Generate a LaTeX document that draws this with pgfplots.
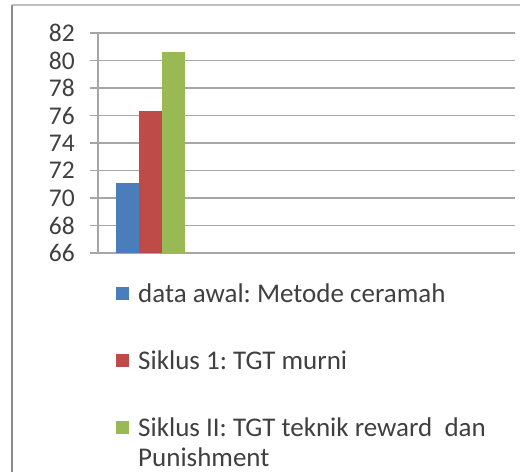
\documentclass[border=0pt]{standalone}
\usepackage{fontspec}
\setmainfont{Carlito}
\usepackage{pgfplots}
\pgfplotsset{compat=1.18}
\definecolor{cblue}{HTML}{4A7EBB}
\definecolor{cred}{HTML}{BE4B48}
\definecolor{cgreen}{HTML}{98B954}
\definecolor{gridc}{HTML}{A6A6A6}
\definecolor{txt}{HTML}{404040}
\frenchspacing
\begin{document}
\begin{tikzpicture}
\path[use as bounding box] (0pt,0pt) rectangle (520pt,472pt);
\fill[white] (0pt,0pt) rectangle (520pt,472pt);
\draw[color=black!25, line width=1.5pt] (12pt,467pt) -- (520pt,467pt);
\draw[color=black!45, line width=2.5pt] (12pt,467pt) -- (12pt,0pt);
\begin{axis}[
  at={(98pt,219pt)}, anchor=south west,
  scale only axis, width=417pt, height=220pt,
  xmin=0, xmax=417, ymin=66, ymax=82,
  ytick={66,68,...,82},
  hide x axis,
  axis y line*=left,
  y axis line style={-, gridc, line width=1.2pt},
  ymajorgrids,
  grid style={gridc, line width=1.2pt},
  tick align=outside, major tick length=8pt,
  ytick style={gridc, line width=1.2pt},
  /pgf/number format/assume math mode=true,
  yticklabel style={font=\fontsize{25.5}{30}\selectfont, text=txt, inner sep=0pt, xshift=-15pt},
  ybar=0pt, bar width=23pt,
  legend style={draw=none, fill=none, inner sep=0pt,
    at={(axis description cs:0.0432,-0.132)}, anchor=north west,
    font=\fontsize{27}{30}\selectfont, text=txt,
    row sep=41pt, column sep=9pt,
    nodes={text height=20pt, text depth=6pt, inner sep=0pt}},
  legend cell align=left,
  legend image code/.code={\fill[#1] (0pt,-4.5pt) rectangle (13pt,8.5pt);},
  clip=true,
]
\addplot[fill=cblue, draw=none] coordinates {(52.5,71.1)};
\addplot[fill=cred, draw=none] coordinates {(52.5,76.35)};
\addplot[fill=cgreen, draw=none] coordinates {(52.5,80.65)};
\legend{data awal: Metode ceramah, Siklus 1: TGT murni, {\parbox[t]{400pt}{Siklus II: TGT teknik reward\ \ dan\\Punishment}}}
\end{axis}
\end{tikzpicture}
\end{document}
